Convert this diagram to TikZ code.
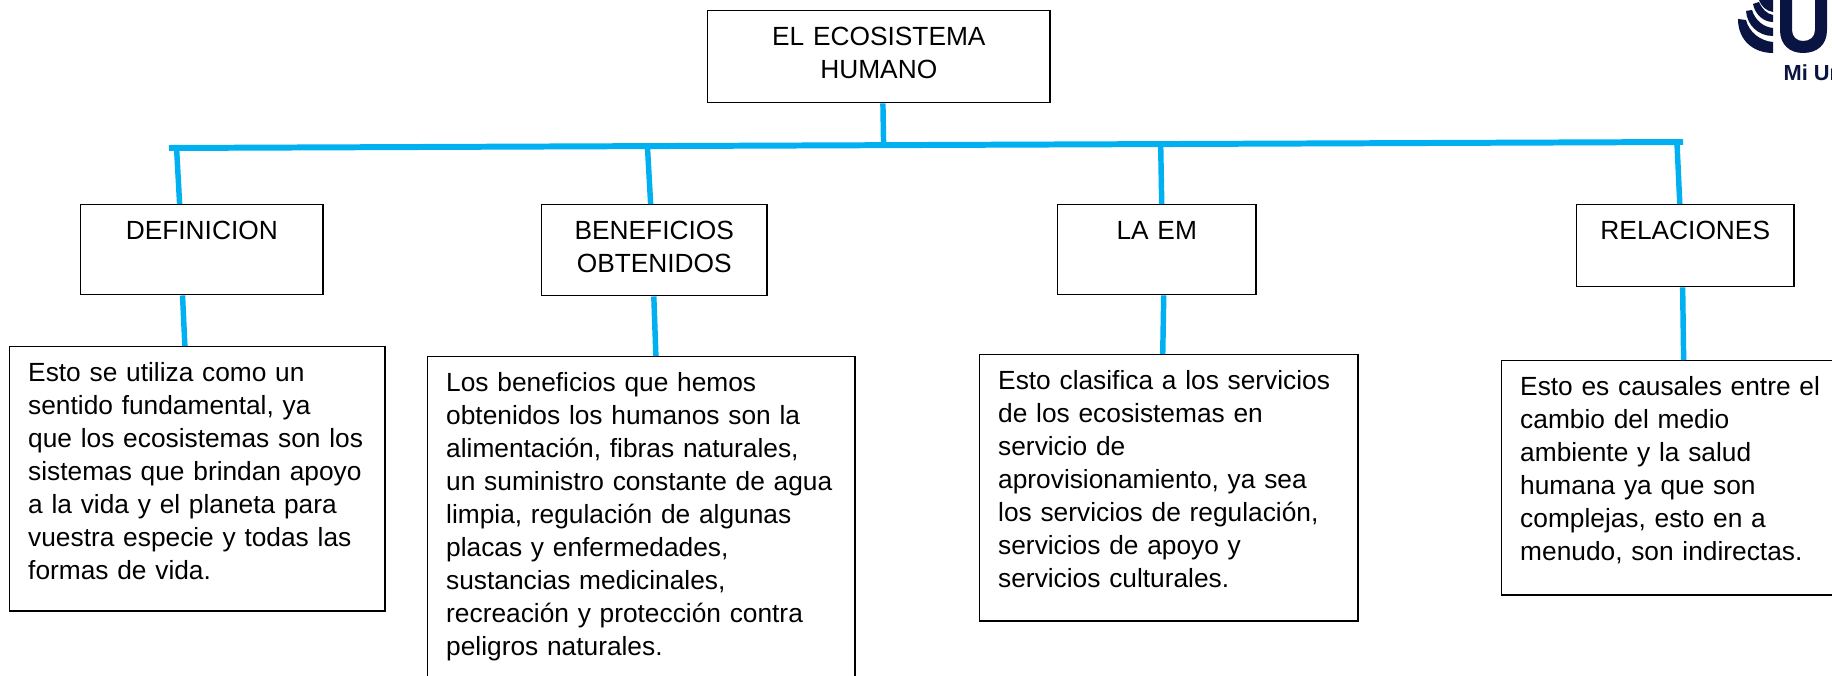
\documentclass[tikz,border=0pt]{standalone}
\usepackage{fontspec}
\setmainfont{Liberation Sans}
\usepackage{xcolor}
\usetikzlibrary{calc}
\definecolor{linkblue}{RGB}{0,176,240}
\definecolor{logonavy}{RGB}{10,20,66}
\tikzset{
  textbox/.style={draw,anchor=north west,inner xsep=0.185cm,inner ysep=0.1cm,line width=0.4pt,text height=0.25cm,font=\fontsize{7.48}{9.39}\selectfont},
  headbox/.style={textbox,align=center},
  bodybox/.style={textbox,align=left},
  link/.style={linkblue,line width=1.55pt},
  barlink/.style={linkblue,line width=1.7pt}
}

\begin{document}
\begin{tikzpicture}[x=0.01cm,y=-0.01cm]
\useasboundingbox (0,0) rectangle (1832,676);

% Draw top box and headings
\node[headbox,text width=3.05cm,text depth=0.47cm] (title) at (707,10) {EL ECOSISTEMA\\HUMANO};
\node[headbox,text width=2.05cm,text depth=0.45cm] (defhead) at (80,204) {DEFINICION};
\node[headbox,text width=1.88cm,text depth=0.46cm] (benhead) at (541,204) {BENEFICIOS\\OBTENIDOS};
\node[headbox,text width=1.61cm,text depth=0.45cm] (emhead) at (1057,204) {LA EM};
\node[headbox,text width=1.80cm,text depth=0.37cm] (relhead) at (1576,204) {RELACIONES};

% Draw text boxes
\node[bodybox,text width=3.38cm,text depth=2.19cm] (defbody) at (9,346) {Esto se utiliza como un\\sentido fundamental, ya\\que los ecosistemas son los\\sistemas que brindan apoyo\\a la vida y el planeta para\\vuestra especie y todas las\\formas de vida.};
\node[bodybox,text width=3.90cm,text depth=3.2cm] (benbody) at (427,356) {Los beneficios que hemos\\obtenidos los humanos son la\\alimentación, fibras naturales,\\un suministro constante de agua\\limpia, regulación de algunas\\placas y enfermedades,\\sustancias medicinales,\\recreación y protección contra\\peligros naturales.};
\node[bodybox,text width=3.41cm,text depth=2.21cm] (embody) at (979,354) {Esto clasifica a los servicios\\de los ecosistemas en\\servicio de\\aprovisionamiento, ya sea\\los servicios de regulación,\\servicios de apoyo y\\servicios culturales.};
\node[bodybox,text width=3.12cm,text depth=1.89cm] (relbody) at (1501,360) {Esto es causales entre el\\cambio del medio\\ambiente y la salud\\humana ya que son\\complejas, esto en a\\menudo, son indirectas.};

% Draw bar
\coordinate (barL) at (169,148);
\coordinate (barR) at (1683,142);
\draw[barlink] (barL) -- (barR);
\draw[link] ($(title.south west)!0.512!(title.south east)$) -- ($(barL)!0.472!(barR)$);

% Draw links
\foreach \nm/\ta/\tb/\tc/\td in {def/0.005/0.409/0.421/0.467, ben/0.316/0.484/0.498/0.534, em/0.655/0.525/0.535/0.484, rel/0.996/0.475/0.488/0.521} {
    \draw[link] ($(barL)!\ta!(barR)$) -- ($(\nm head.north west)!\tb!(\nm head.north east)$);
    \draw[link] ($(\nm head.south west)!\tc!(\nm head.south east)$) -- ($(\nm body.north west)!\td!(\nm body.north east)$);
}

% Draw logo
\fill[logonavy] (1780,0) -- (1780,30) .. controls (1780,45) and (1790,53) .. (1803,53) .. controls (1817,53) and (1827,45) .. (1827,30) -- (1827,0) -- (1815,0) -- (1815,30) .. controls (1815,37) and (1810,41) .. (1803,41) .. controls (1797,41) and (1792,37) .. (1792,30) -- (1792,0) -- cycle;
\fill[logonavy] (1738,19) .. controls (1738,40) and (1753,53) .. (1773,53) -- (1773,42) .. controls (1760,41) and (1749,32) .. (1746,20) -- cycle;
\fill[logonavy] (1746,11) .. controls (1747,25) and (1758,36) .. (1773,36) -- (1773,28) .. controls (1763,27) and (1755,20) .. (1752,10) -- cycle;
\fill[logonavy] (1753,4) .. controls (1755,14) and (1763,22) .. (1773,22) -- (1773,15) .. controls (1767,14) and (1762,9) .. (1759,2) -- cycle;
\fill[logonavy] (1759,0) .. controls (1761,6) and (1766,11) .. (1773,12) -- (1773,0) -- cycle;
\node[logonavy,font=\fontsize{6.2}{7}\selectfont\bfseries,anchor=base west,inner sep=0pt] (logotext) at (1783,81) {Mi Un};
\end{tikzpicture}
\end{document}
